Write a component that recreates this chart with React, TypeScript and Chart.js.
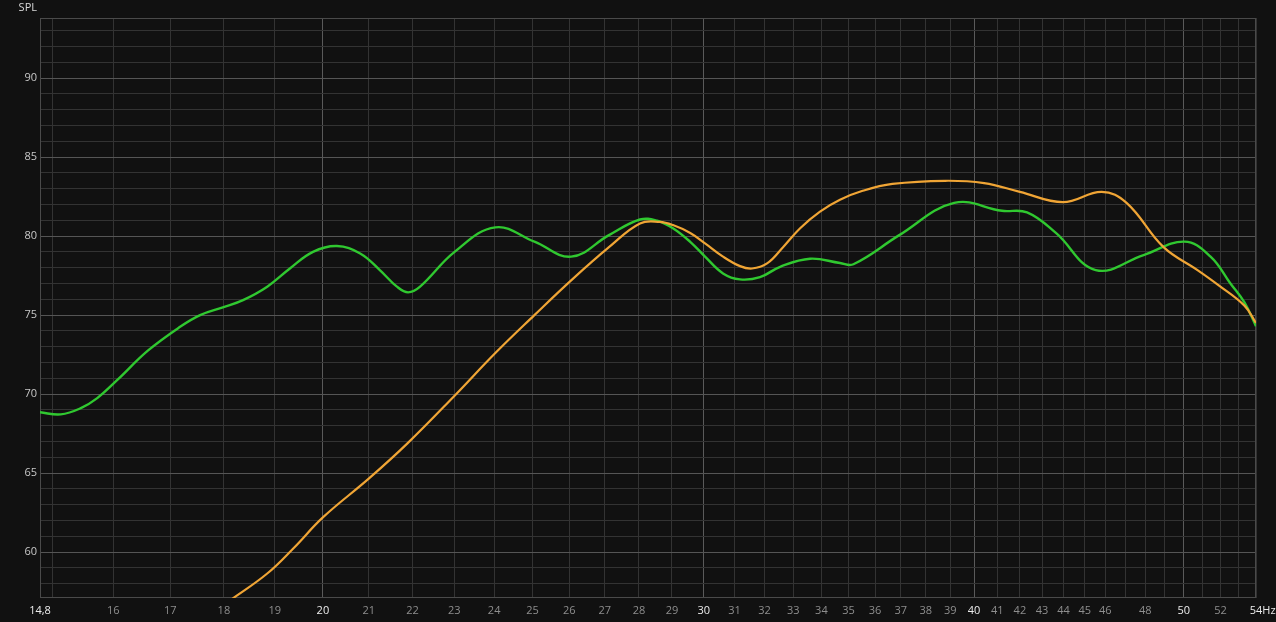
import React, { useEffect, useRef } from "react";
import { Chart, registerables } from "chart.js";

Chart.register(...registerables);

// ---- data ----
const greenFreqs = [14.8, 15.13, 15.45, 15.73, 16.07, 16.6, 17.18, 17.55, 17.98, 18.37, 18.85, 19.31, 19.79, 20.3, 20.81, 21.25, 21.64, 21.9, 22.18, 23.01, 24.03, 25.05, 26.05, 27.12, 28.03, 28.55, 29.03, 29.57, 30.04, 30.62, 31.18, 31.85, 32.54, 33.59, 34.68, 35.18, 36.94, 39.16, 41.21, 42.32, 43.64, 45.53, 47.91, 50.04, 51.45, 52.55, 53.34, 54.0];
const greenSpl = [68.85, 68.72, 69.1, 69.75, 70.9, 72.75, 74.26, 75.0, 75.49, 75.95, 76.8, 77.95, 79.0, 79.37, 78.9, 77.85, 76.8, 76.44, 76.8, 79.0, 80.55, 79.65, 78.7, 80.06, 81.05, 80.97, 80.5, 79.64, 78.7, 77.64, 77.26, 77.4, 78.06, 78.57, 78.3, 78.22, 80.06, 82.1, 81.6, 81.5, 80.2, 77.85, 78.8, 79.65, 78.7, 77.0, 75.8, 74.3];

const orangeFreqs = [17.5, 18.16, 18.85, 19.4, 20.0, 21.02, 21.89, 23.01, 24.03, 25.05, 26.05, 27.12, 28.03, 28.62, 29.03, 29.57, 30.04, 30.62, 31.18, 31.58, 32.09, 32.64, 33.24, 33.95, 34.68, 35.5, 36.67, 38.79, 40.43, 42.0, 43.97, 45.82, 47.05, 48.94, 50.74, 51.88, 53.34, 54.0];
const orangeSpl = [55.5, 57.05, 58.65, 60.3, 62.2, 64.7, 66.9, 69.9, 72.6, 75.0, 77.2, 79.3, 80.8, 80.9, 80.7, 80.2, 79.54, 78.7, 78.1, 77.95, 78.27, 79.3, 80.5, 81.55, 82.3, 82.85, 83.3, 83.5, 83.35, 82.8, 82.15, 82.8, 82.1, 79.3, 77.85, 76.9, 75.6, 74.5];

const xGridValues = [14.8, 15, 16, 17, 18, 19, 20, 21, 22, 23, 24, 25, 26, 27, 28, 29, 30, 31, 32, 33, 34, 35, 36, 37, 38, 39, 40, 41, 42, 43, 44, 45, 46, 47, 48, 49, 50, 51, 52, 53, 54];
const xLabelValues = [14.8, 16, 17, 18, 19, 20, 21, 22, 23, 24, 25, 26, 27, 28, 29, 30, 31, 32, 33, 34, 35, 36, 37, 38, 39, 40, 41, 42, 43, 44, 45, 46, 48, 50, 52, 54];
const xMajorValues = [14.8, 20, 30, 40, 50, 54];
const yGridValues = [58, 59, 60, 61, 62, 63, 64, 65, 66, 67, 68, 69, 70, 71, 72, 73, 74, 75, 76, 77, 78, 79, 80, 81, 82, 83, 84, 85, 86, 87, 88, 89, 90, 91, 92, 93];
const yLabelValues = [60, 65, 70, 75, 80, 85, 90];

const X_MIN = 14.8;
const X_MAX = 54;
const Y_MIN = 57.1;
const Y_MAX = 93.8;

const FONT = "'Open Sans', 'DejaVu Sans', sans-serif";

const framePlugin = {
  id: "frame",
  beforeDraw(chart: any) {
    const { ctx, width, height } = chart;
    ctx.save();
    ctx.fillStyle = "#111111";
    ctx.fillRect(0, 0, width, height);
    ctx.restore();
  },
  beforeDatasetsDraw(chart: any) {
    const { ctx, chartArea } = chart;
    ctx.save();
    ctx.strokeStyle = "#4a4a4a";
    ctx.lineWidth = 1;
    ctx.strokeRect(
      Math.round(chartArea.left) + 0.5,
      Math.round(chartArea.top) + 0.5,
      Math.round(chartArea.right - chartArea.left) - 1,
      Math.round(chartArea.bottom - chartArea.top) - 1
    );
    ctx.restore();
  },
  afterDraw(chart: any) {
    const { ctx, chartArea, scales } = chart;
    ctx.save();
    ctx.font = `11px ${FONT}`;
    ctx.fillStyle = "#d8d8d8";
    ctx.textAlign = "right";
    ctx.textBaseline = "middle";
    ctx.fillText("SPL", chartArea.left - 3, 8);
    const px = scales.x.getPixelForValue(X_MAX);
    const w54 = ctx.measureText("54").width;
    ctx.textAlign = "left";
    ctx.fillStyle = "#e8e8e8";
    ctx.fillText("Hz", px + w54 / 2, chartArea.bottom + 13);
    ctx.restore();
  },
};

export default function App() {
  const canvasRef = useRef<HTMLCanvasElement | null>(null);

  useEffect(() => {
    document.body.style.margin = "0";
    document.body.style.background = "#111111";
    const canvas = canvasRef.current;
    if (!canvas) return;

    const chart = new Chart(canvas, {
      type: "line",
      data: {
        datasets: [
          {
            label: "orange",
            data: orangeFreqs.map((f, i) => ({ x: f, y: orangeSpl[i] })),
            borderColor: "#f0a535",
            borderWidth: 2.2,
            pointRadius: 0,
            tension: 0.4,
            fill: false,
          },
          {
            label: "green",
            data: greenFreqs.map((f, i) => ({ x: f, y: greenSpl[i] })),
            borderColor: "#30c830",
            borderWidth: 2.4,
            pointRadius: 0,
            tension: 0.4,
            fill: false,
          },
        ],
      },
      options: {
        responsive: false,
        animation: false,
        devicePixelRatio: 1,
        layout: { padding: { top: 18, right: 20, left: 0, bottom: 0 } },
        plugins: {
          legend: { display: false },
          tooltip: { enabled: false },
          title: { display: false },
        },
        scales: {
          x: {
            type: "logarithmic",
            min: X_MIN,
            max: X_MAX,
            afterBuildTicks: (scale: any) => {
              scale.ticks = xGridValues.map((v) => ({ value: v }));
            },
            afterFit: (scale: any) => {
              scale.height = 24;
            },
            grid: {
              drawTicks: false,
              color: (ctx: any) => {
                const v = ctx.tick ? ctx.tick.value : 0;
                if (v === 20 || v === 30 || v === 40 || v === 50) return "#5a5a5a";
                return "#333333";
              },
            },
            border: { display: false },
            ticks: {
              autoSkip: false,
              maxRotation: 0,
              minRotation: 0,
              padding: 6,
              font: { family: FONT, size: 11 },
              color: (ctx: any) => {
                const v = ctx.tick ? ctx.tick.value : 0;
                return xMajorValues.includes(v) ? "#ececec" : "#8e8e8e";
              },
              callback: (value: any) => {
                const v = Number(value);
                if (!xLabelValues.includes(v)) return "";
                if (v === 14.8) return "14,8";
                return String(v);
              },
            },
          },
          y: {
            type: "linear",
            min: Y_MIN,
            max: Y_MAX,
            afterBuildTicks: (scale: any) => {
              scale.ticks = yGridValues.map((v) => ({ value: v }));
            },
            afterFit: (scale: any) => {
              scale.width = 40;
            },
            grid: {
              drawTicks: false,
              color: (ctx: any) => {
                const v = ctx.tick ? ctx.tick.value : 0;
                return v % 5 === 0 ? "#555555" : "#333333";
              },
            },
            border: { display: false },
            ticks: {
              autoSkip: false,
              padding: 3,
              font: { family: FONT, size: 11 },
              color: "#c8c8c8",
              callback: (value: any) => {
                const v = Number(value);
                return yLabelValues.includes(v) ? String(v) : "";
              },
            },
          },
        },
      },
      plugins: [framePlugin],
    } as any);

    return () => {
      chart.destroy();
    };
  }, []);

  return (
    <div style={{ width: 1276, height: 622, background: "#111111" }}>
      <canvas ref={canvasRef} width={1276} height={622} style={{ display: "block" }} />
    </div>
  );
}
